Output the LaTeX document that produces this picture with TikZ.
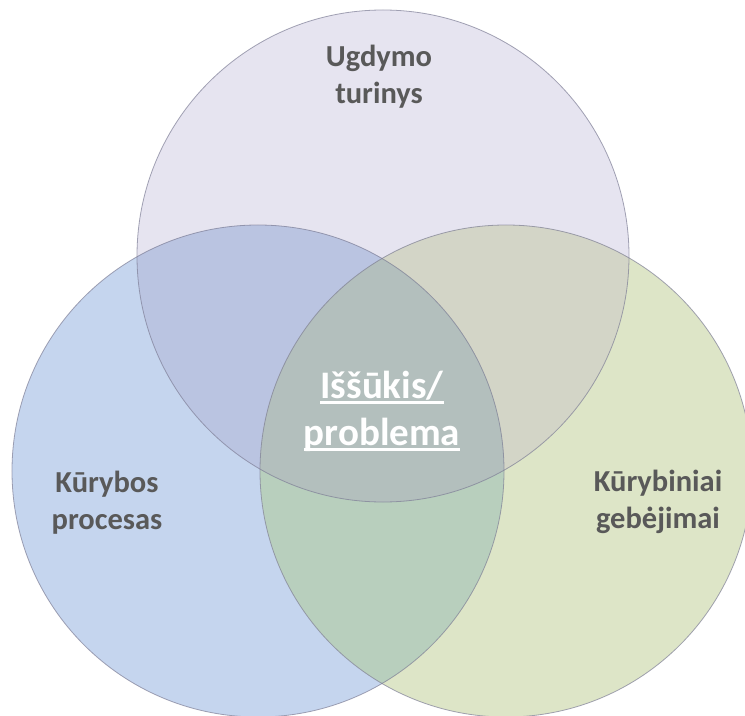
\documentclass[tikz,border=0pt]{standalone}
\usepackage{fontspec}
\setmainfont{Carlito}
\definecolor{cTop}{HTML}{E6E4F0}
\definecolor{cLeft}{HTML}{C5D5EE}
\definecolor{cRight}{HTML}{DDE5C7}
\definecolor{cTL}{HTML}{BAC4E1}
\definecolor{cTR}{HTML}{D3D5C7}
\definecolor{cLR}{HTML}{B8CFBD}
\definecolor{cAll}{HTML}{B3BFBD}
\definecolor{cEdge}{HTML}{7E7E96}
\definecolor{cText}{HTML}{595959}
\newcommand\myul[1]{\setbox0=\hbox{#1}\rlap{\rule[-6bp]{\wd0}{2.7bp}}\box0}
\begin{document}
\begin{tikzpicture}[x=1bp,y=-1bp,
  edge/.style={draw=cEdge,draw opacity=0.7,line width=0.8bp},
  lbl/.style={align=center,text=cText,font=\bfseries\fontsize{30.5bp}{37bp}\selectfont,inner sep=0pt},
  mid/.style={align=center,text=white,font=\bfseries\fontsize{39bp}{47bp}\selectfont,inner sep=0pt}]
\useasboundingbox (0,0) rectangle (745,716);
\fill[white] (0,0) rectangle (745,716);
\coordinate (ct) at (383,256);
\coordinate (cl) at (258,471);
\coordinate (cr) at (506,471);
\def\R{246bp}
\fill[cTop] (ct) circle[radius=\R];
\fill[cLeft] (cl) circle[radius=\R];
\fill[cRight] (cr) circle[radius=\R];
\begin{scope}\clip (ct) circle[radius=\R]; \fill[cTL] (cl) circle[radius=\R];\end{scope}
\begin{scope}\clip (ct) circle[radius=\R]; \fill[cTR] (cr) circle[radius=\R];\end{scope}
\begin{scope}\clip (cl) circle[radius=\R]; \fill[cLR] (cr) circle[radius=\R];\end{scope}
\begin{scope}\clip (ct) circle[radius=\R]; \clip (cl) circle[radius=\R]; \fill[cAll] (cr) circle[radius=\R];\end{scope}
\draw[edge] (ct) circle[radius=\R];
\draw[edge] (cl) circle[radius=\R];
\draw[edge] (cr) circle[radius=\R];
\node[lbl] (ugd) at (379,77) {Ugdymo\\turinys};
\node[lbl] (kp) at (107,503) {Kūrybos\\procesas};
\node[lbl] (kg) at (658,502) {Kūrybiniai\\gebėjimai};
\node[mid] (ip) at (382,411) {\myul{Iššūkis/}\\\myul{problema}};
\end{tikzpicture}
\end{document}
